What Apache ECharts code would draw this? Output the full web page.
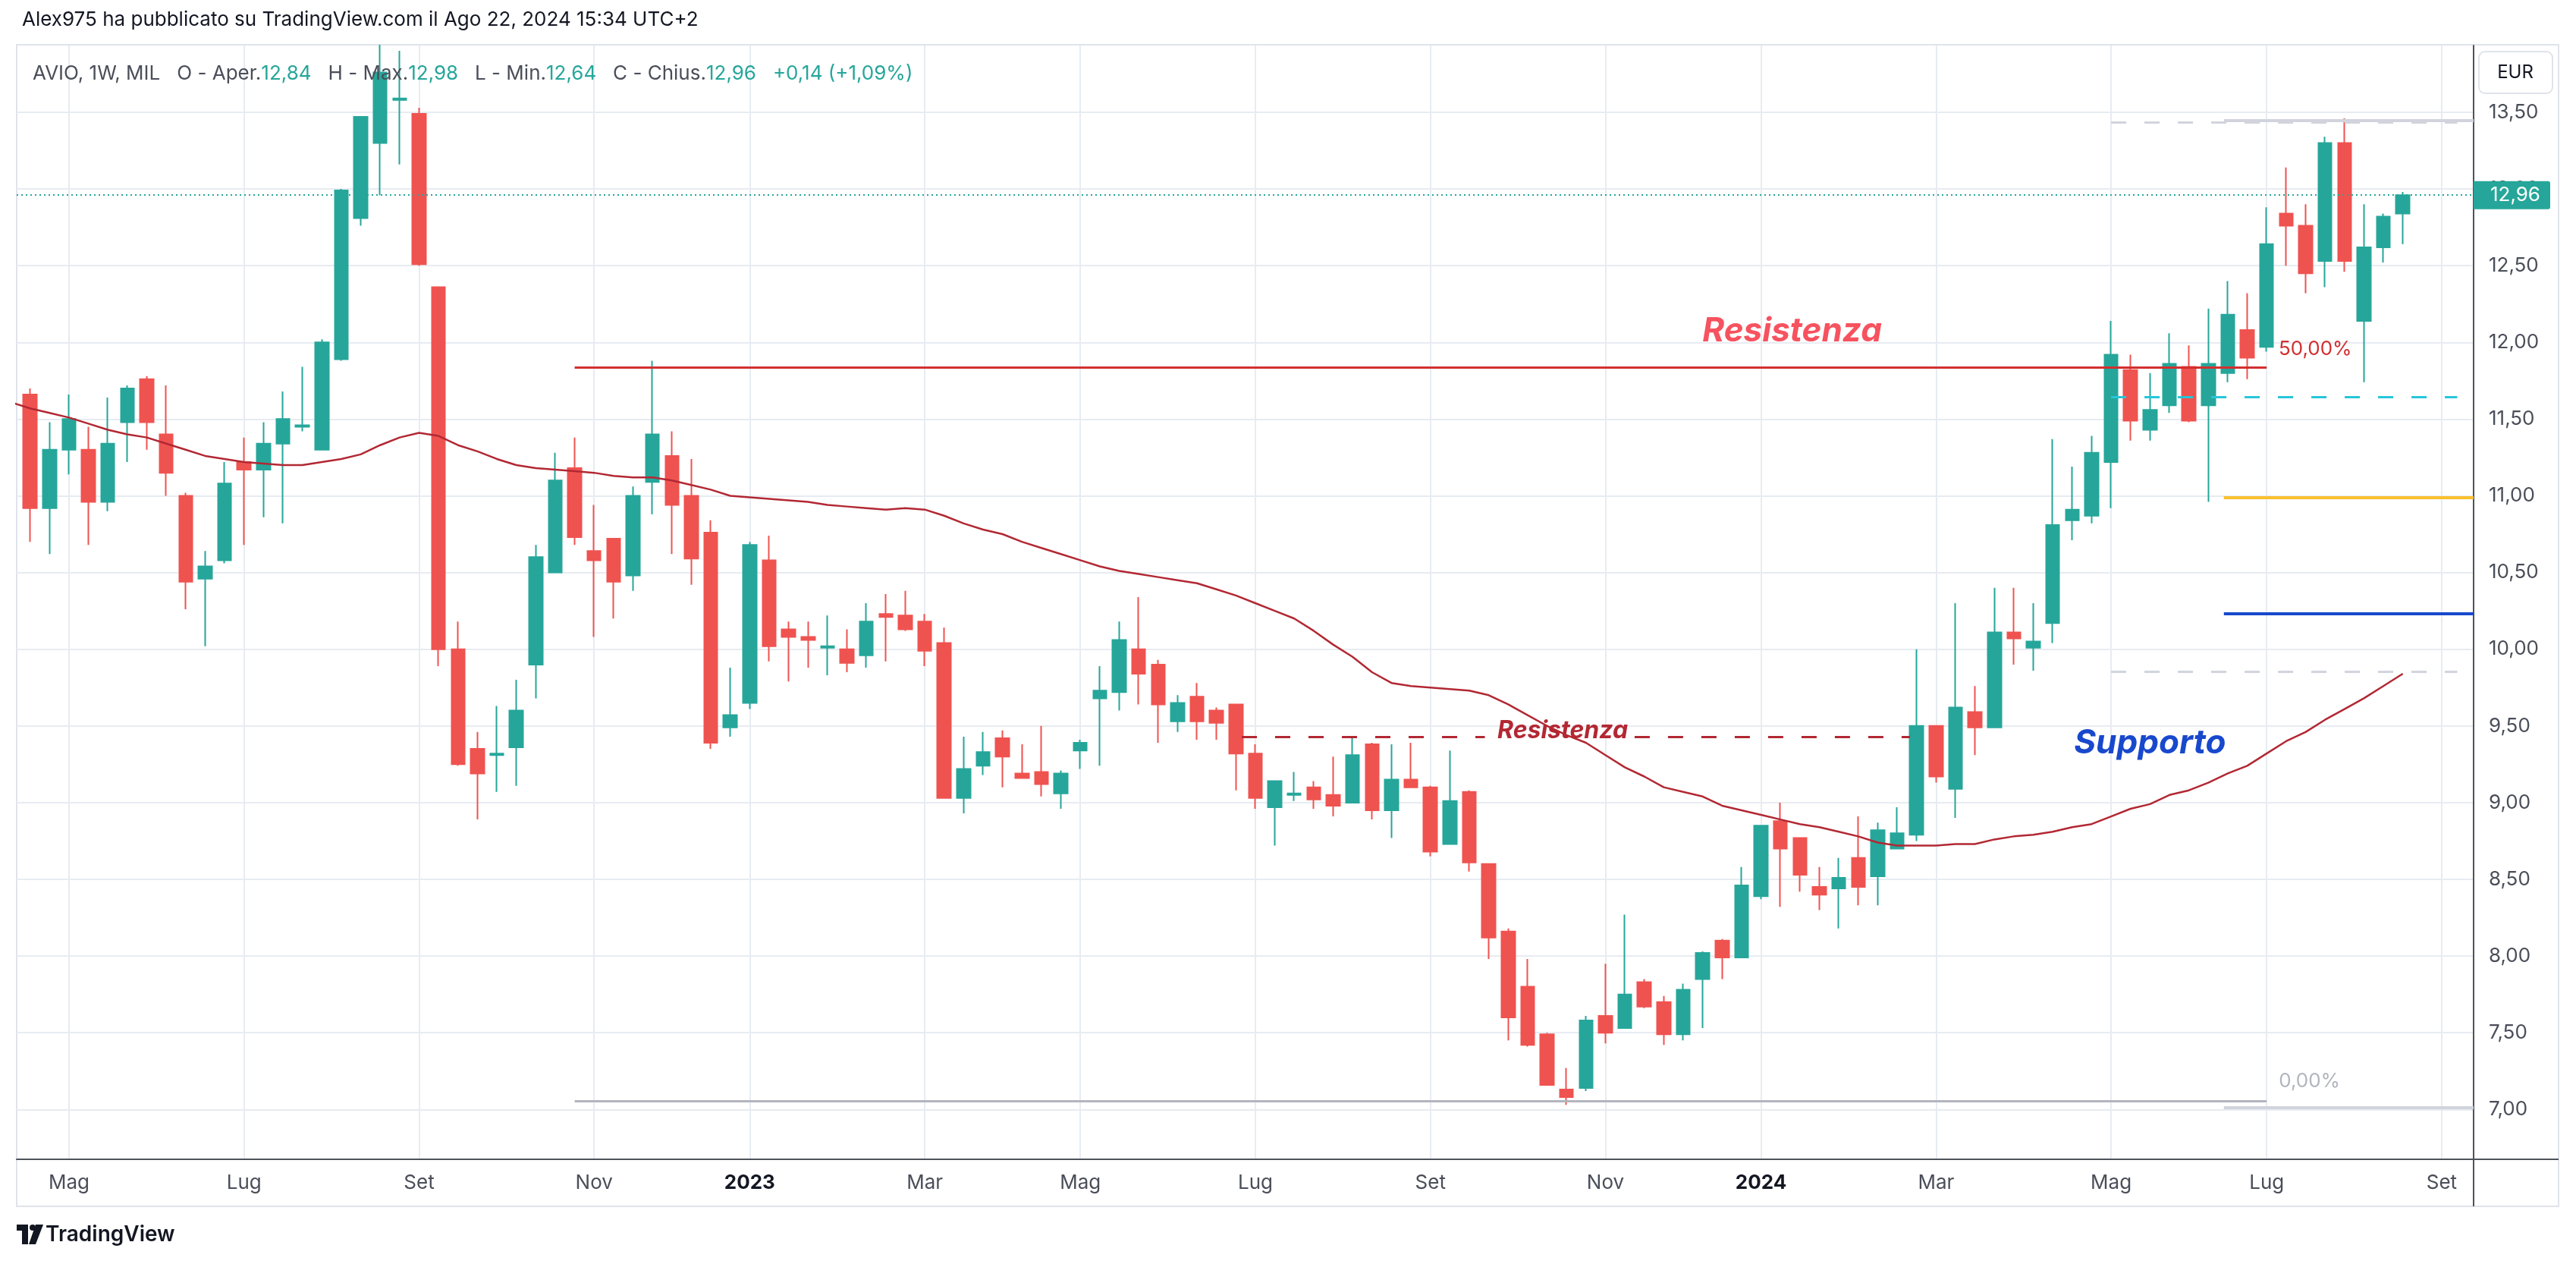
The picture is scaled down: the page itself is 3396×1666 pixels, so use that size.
<!DOCTYPE html>
<html>
<head>
<meta charset="utf-8">
<title>AVIO 1W MIL</title>
<script src="https://cdn.jsdelivr.net/npm/echarts@6.0.0/dist/echarts.min.js"></script>
<style>
html,body{margin:0;padding:0;background:#ffffff;}
#chart{width:3396px;height:1666px;}
</style>
</head>
<body>
<div id="chart"></div>
<script>
// ---------------- data (weekly bars; week 0 = 11 Apr 2022, first full bar = week 1 = 18 Apr 2022) ----------------
const weekTicks = [3, 12, 21, 30, 38, 47, 55, 64, 73, 82, 90, 99, 108, 116, 125];
const weekTickLabels = ['Mag','Lug','Set','Nov','2023','Mar','Mag','Lug','Set','Nov','2024','Mar','Mag','Lug','Set'];
const priceTicks = [7.0, 7.5, 8.0, 8.5, 9.0, 9.5, 10.0, 10.5, 11.0, 11.5, 12.0, 12.5, 13.0, 13.5];
const firstBarWeek = 1;

const openP = [
  11.66, 10.92, 11.30, 11.30, 10.96, 11.48, 11.76, 11.40, 11.00, 10.46,
  10.58, 11.22, 11.17, 11.34, 11.45, 11.30, 11.89, 12.81, 13.30, 13.58,
  13.49, 12.36, 10.00, 9.35, 9.31, 9.36, 9.90, 10.50, 11.18, 10.64,
  10.72, 10.48, 11.09, 11.26, 11.00, 10.76, 9.49, 9.65, 10.58, 10.13,
  10.08, 10.01, 10.00, 9.96, 10.23, 10.22, 10.18, 10.04, 9.03, 9.24,
  9.42, 9.19, 9.20, 9.06, 9.34, 9.68, 9.72, 10.00, 9.90, 9.53,
  9.69, 9.60, 9.64, 9.32, 8.97, 9.05, 9.10, 9.05, 9.00, 9.38,
  8.95, 9.15, 9.10, 8.73, 9.07, 8.60, 8.16, 7.80, 7.49, 7.13,
  7.14, 7.61, 7.53, 7.83, 7.70, 7.49, 7.85, 8.10, 7.99, 8.39,
  8.88, 8.77, 8.45, 8.44, 8.64, 8.52, 8.70, 8.79, 9.50, 9.09,
  9.59, 9.49, 10.11, 10.01, 10.17, 10.84, 10.87, 11.22, 11.82, 11.43,
  11.59, 11.84, 11.59, 11.80, 12.08, 11.97, 12.84, 12.76, 12.53, 13.30,
  12.14, 12.62, 12.84];
const highP = [
  11.70, 11.48, 11.66, 11.45, 11.64, 11.72, 11.78, 11.72, 11.02, 10.64,
  11.22, 11.38, 11.48, 11.68, 11.84, 12.02, 13.00, 13.47, 13.94, 13.90,
  13.53, 12.36, 10.18, 9.46, 9.63, 9.80, 10.68, 11.28, 11.38, 10.94,
  10.72, 11.06, 11.88, 11.42, 11.24, 10.84, 9.88, 10.70, 10.74, 10.18,
  10.18, 10.22, 10.13, 10.30, 10.36, 10.38, 10.23, 10.14, 9.43, 9.46,
  9.47, 9.38, 9.50, 9.21, 9.41, 9.89, 10.18, 10.34, 9.93, 9.70,
  9.78, 9.62, 9.64, 9.38, 9.14, 9.20, 9.14, 9.30, 9.43, 9.39,
  9.38, 9.39, 9.11, 9.34, 9.08, 8.60, 8.18, 7.98, 7.50, 7.27,
  7.61, 7.95, 8.27, 7.85, 7.74, 7.82, 8.03, 8.11, 8.58, 8.85,
  9.00, 8.77, 8.58, 8.64, 8.91, 8.87, 8.97, 10.00, 9.50, 10.30,
  9.76, 10.40, 10.40, 10.30, 11.37, 11.19, 11.39, 12.14, 11.92, 11.80,
  12.06, 11.98, 12.22, 12.40, 12.32, 12.88, 13.14, 12.90, 13.34, 13.46,
  12.90, 12.84, 12.98];
const lowP = [
  10.70, 10.62, 11.14, 10.68, 10.90, 11.22, 11.30, 11.00, 10.26, 10.02,
  10.56, 10.68, 10.86, 10.82, 11.42, 11.30, 11.88, 12.76, 12.96, 13.16,
  12.50, 9.89, 9.24, 8.89, 9.07, 9.11, 9.68, 10.50, 10.68, 10.08,
  10.20, 10.38, 10.88, 10.62, 10.42, 9.35, 9.43, 9.61, 9.92, 9.79,
  9.88, 9.83, 9.85, 9.88, 9.92, 10.12, 9.89, 9.03, 8.93, 9.18,
  9.10, 9.16, 9.04, 8.96, 9.22, 9.24, 9.60, 9.64, 9.39, 9.46,
  9.41, 9.41, 9.08, 8.96, 8.72, 9.01, 8.96, 8.91, 9.00, 8.89,
  8.77, 9.10, 8.65, 8.73, 8.55, 7.98, 7.45, 7.41, 7.16, 7.03,
  7.12, 7.43, 7.53, 7.66, 7.42, 7.45, 7.53, 7.85, 7.99, 8.37,
  8.32, 8.42, 8.30, 8.18, 8.33, 8.33, 8.70, 8.75, 9.13, 8.90,
  9.31, 9.49, 9.90, 9.86, 10.04, 10.71, 10.82, 10.92, 11.36, 11.36,
  11.54, 11.48, 10.96, 11.74, 11.76, 11.94, 12.50, 12.32, 12.36, 12.46,
  11.74, 12.52, 12.64];
const closeP = [
  10.92, 11.30, 11.50, 10.96, 11.34, 11.70, 11.48, 11.15, 10.44, 10.54,
  11.08, 11.17, 11.34, 11.50, 11.46, 12.00, 12.99, 13.47, 13.76, 13.59,
  12.51, 10.00, 9.25, 9.19, 9.32, 9.60, 10.60, 11.10, 10.73, 10.58,
  10.44, 11.00, 11.40, 10.94, 10.59, 9.39, 9.57, 10.68, 10.02, 10.08,
  10.06, 10.02, 9.91, 10.18, 10.21, 10.13, 9.99, 9.03, 9.22, 9.33,
  9.30, 9.16, 9.12, 9.19, 9.39, 9.73, 10.06, 9.84, 9.64, 9.65,
  9.53, 9.52, 9.32, 9.03, 9.14, 9.06, 9.02, 8.98, 9.31, 8.95,
  9.15, 9.10, 8.68, 9.01, 8.61, 8.12, 7.60, 7.42, 7.16, 7.08,
  7.58, 7.50, 7.75, 7.67, 7.49, 7.78, 8.02, 7.99, 8.46, 8.85,
  8.70, 8.53, 8.40, 8.51, 8.45, 8.82, 8.80, 9.50, 9.17, 9.62,
  9.49, 10.11, 10.07, 10.05, 10.81, 10.91, 11.28, 11.92, 11.49, 11.56,
  11.86, 11.49, 11.86, 12.18, 11.90, 12.64, 12.76, 12.45, 13.30, 12.53,
  12.62, 12.82, 12.96];
// moving average, from week 0
const maValues = [11.61,
  11.57, 11.54, 11.51, 11.47, 11.43, 11.40, 11.38, 11.34, 11.30, 11.26,
  11.24, 11.22, 11.21, 11.20, 11.20, 11.22, 11.24, 11.27, 11.33, 11.38,
  11.41, 11.39, 11.33, 11.29, 11.24, 11.20, 11.18, 11.17, 11.16, 11.15,
  11.13, 11.12, 11.12, 11.10, 11.07, 11.04, 11.00, 10.99, 10.98, 10.97,
  10.96, 10.94, 10.93, 10.92, 10.91, 10.92, 10.91, 10.87, 10.82, 10.78,
  10.75, 10.70, 10.66, 10.62, 10.58, 10.54, 10.51, 10.49, 10.47, 10.45,
  10.43, 10.39, 10.35, 10.30, 10.25, 10.20, 10.12, 10.03, 9.95, 9.85,
  9.78, 9.76, 9.75, 9.74, 9.73, 9.70, 9.64, 9.57, 9.50, 9.44,
  9.39, 9.31, 9.23, 9.17, 9.10, 9.07, 9.04, 8.98, 8.95, 8.92,
  8.89, 8.86, 8.84, 8.81, 8.78, 8.74, 8.72, 8.72, 8.72, 8.73,
  8.73, 8.76, 8.78, 8.79, 8.81, 8.84, 8.86, 8.91, 8.96, 8.99,
  9.05, 9.08, 9.13, 9.19, 9.24, 9.32, 9.40, 9.46, 9.54, 9.61,
  9.68, 9.76, 9.84];

// drawn levels (price) and their week anchors
const resistanceHigh = 11.835;   // "Resistenza" / 50,00%
const fibZeroLevel = 7.054;      // 0,00%
const resistanceLow = 9.427;     // small "Resistenza"
const fibTopSolid = 13.447, fibTopDash = 13.432, fibCyan = 11.646;
const fibYellow = 10.989, fibBlue = 10.231, fibGrayDash = 9.856, fibBottom = 7.014;

// ---------------- chart ----------------
const X_MIN = 0.31, X_MAX = 126.64, Y_MIN = 6.675, Y_MAX = 13.935;
const UP = '#26a69a', DOWN = '#ef5350', MA_COLOR = '#b22833';
const FONT = 'Inter, Roboto, "Noto Sans", sans-serif';
const fmt = v => v.toFixed(2).replace('.', ',');
const last = closeP.length - 1;
const chg = closeP[last] - closeP[last - 1];
const pct = chg / closeP[last - 1] * 100;
const sign = chg >= 0 ? '+' : '−';

const candles = openP.map((o, k) => [k + firstBarWeek, o, closeP[k], lowP[k], highP[k]]);
const maLine = maValues.map((v, k) => [k, v]);

function hLine(x1, x2, y, color, width, type) {
  return [{coord: [x1, y], lineStyle: {color: color, width: width, type: type, opacity: 1}}, {coord: [x2, y]}];
}
function note(x, y, text, size, color, bold) {
  return {
    coord: [x, y], symbol: 'circle', symbolSize: 1, itemStyle: {color: 'rgba(0,0,0,0)'},
    label: {show: true, position: 'inside', formatter: text, fontSize: size, fontFamily: FONT,
      fontWeight: bold ? 'bold' : 'normal', fontStyle: bold ? 'italic' : 'normal', color: color}
  };
}
const dash = [20, 24];

const chart = echarts.init(document.getElementById('chart'), null, {renderer: 'canvas'});
chart.setOption({
  animation: false,
  backgroundColor: '#ffffff',
  title: [
    {text: 'Alex975 ha pubblicato su TradingView.com il Ago 22, 2024 15:34 UTC+2', left: 24, top: 8,
     textStyle: {fontSize: 26, fontWeight: 'normal', color: '#131722', fontFamily: FONT}},
    {text: '{n|AVIO, 1W, MIL}   {n|O - Aper.}{v|' + fmt(openP[last]) + '}   {n|H - Max.}{v|' + fmt(highP[last]) +
           '}   {n|L - Min.}{v|' + fmt(lowP[last]) + '}   {n|C - Chius.}{v|' + fmt(closeP[last]) + '}   {v|' +
           sign + fmt(Math.abs(chg)) + ' (' + sign + fmt(Math.abs(pct)) + '%)}',
     left: 38, top: 79,
     textStyle: {fontWeight: 'normal', fontSize: 26, fontFamily: FONT, rich: {
       n: {fontSize: 26, fontWeight: 'normal', color: '#4a4e59', fontFamily: FONT},
       v: {fontSize: 26, fontWeight: 'normal', color: UP, fontFamily: FONT}
     }}}
  ],
  grid: {left: 22, right: 135, top: 60, bottom: 138, containLabel: false, outerBoundsMode: 'none'},
  xAxis: {
    type: 'value', min: X_MIN, max: X_MAX,
    axisLine: {show: true, onZero: false, lineStyle: {color: '#4e525c', width: 2}},
    axisTick: {show: false, customValues: weekTicks},
    axisLabel: {
      customValues: weekTicks, margin: 18, fontSize: 26, fontFamily: FONT, color: '#4a4e59',
      formatter: v => {
        const k = weekTicks.indexOf(Math.round(v));
        const t = k >= 0 ? weekTickLabels[k] : '';
        return /^\d{4}$/.test(t) ? '{b|' + t + '}' : t;
      },
      rich: {b: {fontSize: 26, fontWeight: 'bold', color: '#131722', fontFamily: FONT}}
    },
    splitLine: {show: true, lineStyle: {color: '#e7ecf2', width: 2}}
  },
  yAxis: {
    type: 'value', position: 'right', min: Y_MIN, max: Y_MAX,
    axisLine: {show: true, lineStyle: {color: '#4e525c', width: 2}},
    axisTick: {show: false, customValues: priceTicks},
    axisLabel: {customValues: priceTicks, margin: 20, fontSize: 26, fontFamily: FONT, color: '#4a4e59',
      formatter: v => fmt(v)},
    splitLine: {show: true, lineStyle: {color: '#e7ecf2', width: 2}}
  },
  series: [
    {
      type: 'candlestick', name: 'AVIO', data: candles, barWidth: 18, clip: true,
      itemStyle: {color: UP, color0: DOWN, borderColor: UP, borderColor0: DOWN, borderColorDoji: UP, borderWidth: 2},
      emphasis: {disabled: true},
      markLine: {
        silent: true, symbol: ['none', 'none'], animation: false, label: {show: false},
        emphasis: {disabled: true},
        data: [
          hLine(29, 116, resistanceHigh, '#d32f2f', 3, 'solid'),
          hLine(29, 116, fibZeroLevel, '#b2b5be', 3, 'solid'),
          hLine(63.3, 75.8, resistanceLow, MA_COLOR, 3, dash),
          hLine(83.5, 97.66, resistanceLow, MA_COLOR, 3, dash),
          hLine(108, 125.8, fibTopDash, '#d1d4dc', 3, dash),
          hLine(113.8, X_MAX, fibTopSolid, '#d1d4dc', 4, 'solid'),
          hLine(108, 125.8, fibCyan, '#26c6da', 3, dash),
          hLine(113.8, X_MAX, fibYellow, '#fbc02d', 4, 'solid'),
          hLine(113.8, X_MAX, fibBlue, '#1848cc', 4, 'solid'),
          hLine(108, 125.8, fibGrayDash, '#d1d4dc', 3, dash),
          hLine(113.8, X_MAX, fibBottom, '#d1d4dc', 4, 'solid'),
          [{coord: [X_MIN, closeP[last]], lineStyle: {color: UP, width: 2, type: [2, 4]},
            label: {show: true, position: 'end', distance: 0, formatter: fmt(closeP[last]),
              backgroundColor: UP, color: '#ffffff', fontSize: 26, lineHeight: 26, fontFamily: FONT,
              padding: [6, 13, 5, 22], borderRadius: [0, 3, 3, 0]}},
           {coord: [X_MAX, closeP[last]]}]
        ]
      },
      markPoint: {
        silent: true, animation: false,
        data: [
          note(91.6, 12.07, 'Resistenza', 44, '#f7525f', true),
          note(79.8, 9.469, 'Resistenza', 32, MA_COLOR, true),
          note(110.0, 9.385, 'Supporto', 44, '#1848cc', true),
          note(118.5, 11.955, '50,00%', 26, '#d32f2f', false),
          note(118.2, 7.182, '0,00%', 26, '#b2b5be', false)
        ]
      }
    },
    {
      type: 'line', name: 'MA', data: maLine, showSymbol: false, smooth: false, clip: true, z: 3,
      lineStyle: {color: MA_COLOR, width: 2.5}, emphasis: {disabled: true},
      markLine: {
        silent: true, symbol: ['none', 'none'], animation: false,
        data: [
          [{coord: [120, maValues[last]], lineStyle: {opacity: 0},
            label: {show: true, position: 'end', distance: 0, formatter: fmt(maValues[last]),
              backgroundColor: MA_COLOR, color: '#ffffff', fontSize: 26, lineHeight: 26, fontFamily: FONT,
              padding: [5, 13, 5, 22], borderRadius: [0, 3, 3, 0]}},
           {coord: [X_MAX, maValues[last]]}]
        ]
      }
    }
  ],
  graphic: [
    {type: 'rect', z: -10, silent: true, shape: {x: 22, y: 59, width: 3351, height: 1531},
     style: {fill: 'none', stroke: '#e0e3eb', lineWidth: 2}},
    {type: 'line', silent: true, shape: {x1: 3261, y1: 1528, x2: 3373, y2: 1528}, style: {stroke: '#4e525c', lineWidth: 2}},
    {type: 'line', silent: true, shape: {x1: 3261, y1: 1528, x2: 3261, y2: 1590}, style: {stroke: '#4e525c', lineWidth: 2}},
    {type: 'rect', silent: true, shape: {x: 3268, y: 68, width: 97, height: 55, r: 8},
     style: {fill: '#ffffff', stroke: '#e0e3eb', lineWidth: 2}},
    {type: 'text', silent: true, x: 3316, y: 96,
     style: {text: 'EUR', fontSize: 24, fontFamily: FONT, fill: '#131722', align: 'center', verticalAlign: 'middle'}},
    {type: 'group', silent: true, children: [
      {type: 'rect', shape: {x: 22, y: 1614, width: 15, height: 8}, style: {fill: '#131722'}},
      {type: 'rect', shape: {x: 29, y: 1614, width: 8, height: 26}, style: {fill: '#131722'}},
      {type: 'circle', shape: {cx: 43, cy: 1618, r: 4}, style: {fill: '#131722'}},
      {type: 'polygon', shape: {points: [[47, 1614], [57, 1614], [47, 1640], [38, 1640]]}, style: {fill: '#131722'}},
      {type: 'text', x: 60, y: 1628, style: {text: 'TradingView', fontSize: 28, fontWeight: 600, fontFamily: FONT,
        fill: '#131722', verticalAlign: 'middle'}}
    ]}
  ]
});
</script>
</body>
</html>
